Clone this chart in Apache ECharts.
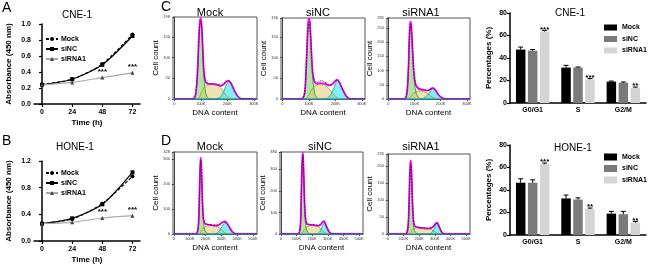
<!DOCTYPE html>
<html>
<head>
<meta charset="utf-8">
<script src="https://cdn.jsdelivr.net/npm/echarts@6/dist/echarts.min.js"></script>
<style>
  html, body { margin: 0; padding: 0; background: #fff; }
  #main { width: 650px; height: 268px; }
</style>
</head>
<body>
<div id="main"></div>
<script>
// growth curves (A, B)
var timeH = [0, 24, 48, 72];
var cneMock = [0.245, 0.31, 0.50, 0.87];
var cneNC = [0.24, 0.31, 0.49, 0.85];
var cneSi = [0.24, 0.27, 0.33, 0.39];
var cneStars = ['', '', '***', '***'];
var honeMock = [0.26, 0.33, 0.56, 0.97];
var honeNC = [0.26, 0.34, 0.55, 1.03];
var honeSi = [0.26, 0.28, 0.345, 0.38];
var honeStars = ['', '', '***', '***'];

// cell cycle histograms, x in K (C = CNE-1, D = HONE-1)
var cMockX = [0, 60, 75, 82, 88, 92, 96, 100, 104, 108, 112, 118, 125, 135, 145, 155, 165, 175, 185, 195, 205, 215, 225, 240, 255, 312];
var cMockData = [0, 0, 3, 20, 70, 130, 178, 188, 165, 112, 66, 44, 39, 37, 37, 36, 35, 32, 34, 41, 45, 38, 24, 7, 1, 0];
var cMockFit = [0, 0, 2, 18, 74, 140, 186, 195, 170, 112, 63, 41, 37, 36, 36, 35, 34, 32, 35, 42, 44, 36, 22, 6, 0, 0];
var cMockG1 = [0, 0, 2, 16, 68, 132, 180, 190, 162, 100, 48, 16, 4, 0, 0, 0, 0, 0, 0, 0, 0, 0, 0, 0, 0, 0];
var cMockS = [0, 0, 0, 0, 0, 2, 6, 12, 18, 24, 28, 32, 34, 36, 36, 35, 32, 26, 18, 9, 3, 0, 0, 0, 0, 0];
var cMockG2 = [0, 0, 0, 0, 0, 0, 0, 0, 0, 0, 0, 0, 0, 0, 0, 0, 2, 6, 16, 32, 42, 36, 22, 6, 0, 0];

var cNCX = [0, 65, 78, 85, 90, 94, 98, 102, 106, 110, 115, 122, 130, 140, 150, 160, 170, 180, 190, 200, 207, 215, 225, 240, 255, 312];
var cNCData = [0, 0, 3, 20, 72, 135, 178, 186, 160, 110, 64, 44, 40, 43, 44, 41, 37, 34, 37, 43, 46, 40, 27, 9, 1, 0];
var cNCFit = [0, 0, 2, 18, 76, 142, 188, 195, 166, 110, 60, 40, 37, 38, 38, 37, 34, 33, 37, 44, 47, 41, 27, 8, 0, 0];
var cNCG1 = [0, 0, 2, 16, 70, 135, 182, 190, 158, 100, 46, 14, 3, 0, 0, 0, 0, 0, 0, 0, 0, 0, 0, 0, 0, 0];
var cNCS = [0, 0, 0, 0, 0, 2, 6, 11, 17, 22, 27, 31, 34, 36, 36, 34, 29, 22, 14, 7, 3, 1, 0, 0, 0, 0];
var cNCG2 = [0, 0, 0, 0, 0, 0, 0, 0, 0, 0, 0, 0, 0, 0, 0, 0, 2, 8, 20, 36, 44, 40, 27, 8, 0, 0];

var cSiX = [0, 55, 65, 72, 77, 80, 83, 86, 89, 93, 98, 105, 115, 125, 135, 145, 155, 162, 170, 178, 185, 195, 210, 225, 312];
var cSiData = [0, 0, 3, 30, 110, 200, 255, 262, 235, 170, 95, 52, 40, 36, 34, 31, 30, 34, 37, 33, 25, 12, 3, 0, 0];
var cSiFit = [0, 0, 2, 28, 115, 210, 265, 272, 240, 168, 90, 48, 36, 33, 31, 30, 31, 36, 39, 34, 24, 11, 2, 0, 0];
var cSiG1 = [0, 0, 2, 26, 108, 200, 258, 265, 232, 158, 75, 25, 5, 0, 0, 0, 0, 0, 0, 0, 0, 0, 0, 0, 0];
var cSiS = [0, 0, 0, 0, 0, 2, 5, 9, 13, 17, 22, 26, 28, 28, 26, 22, 16, 11, 6, 3, 1, 0, 0, 0, 0];
var cSiG2 = [0, 0, 0, 0, 0, 0, 0, 0, 0, 0, 0, 0, 0, 0, 3, 9, 20, 30, 36, 32, 23, 11, 2, 0, 0];

var dMockX = [0, 130, 145, 155, 160, 164, 168, 171, 175, 180, 186, 195, 210, 230, 250, 270, 285, 298, 310, 323, 335, 350, 365, 380, 400, 525];
var dMockData = [0, 0, 3, 35, 110, 210, 280, 295, 250, 150, 72, 45, 40, 37, 35, 34, 36, 42, 47, 48, 42, 28, 13, 4, 0, 0];
var dMockFit = [0, 0, 2, 32, 115, 220, 290, 305, 255, 150, 68, 42, 38, 36, 34, 34, 37, 43, 48, 50, 43, 28, 12, 3, 0, 0];
var dMockG1 = [0, 0, 2, 30, 108, 212, 282, 298, 248, 140, 55, 16, 3, 0, 0, 0, 0, 0, 0, 0, 0, 0, 0, 0, 0, 0];
var dMockS = [0, 0, 0, 0, 0, 2, 5, 9, 14, 19, 24, 28, 33, 35, 34, 31, 26, 19, 12, 5, 2, 0, 0, 0, 0, 0];
var dMockG2 = [0, 0, 0, 0, 0, 0, 0, 0, 0, 0, 0, 0, 0, 0, 0, 3, 11, 24, 36, 45, 41, 28, 12, 3, 0, 0];

var dNCX = [0, 100, 115, 125, 130, 134, 138, 141, 145, 150, 156, 165, 180, 200, 220, 240, 252, 262, 270, 276, 283, 292, 305, 320, 340, 525];
var dNCData = [0, 0, 3, 40, 145, 270, 345, 365, 315, 195, 90, 50, 45, 44, 42, 40, 43, 50, 56, 58, 50, 34, 15, 3, 0, 0];
var dNCFit = [0, 0, 2, 38, 150, 280, 355, 378, 320, 192, 85, 47, 43, 42, 40, 39, 42, 51, 58, 60, 52, 34, 14, 2, 0, 0];
var dNCG1 = [0, 0, 2, 36, 142, 272, 348, 370, 312, 180, 70, 18, 3, 0, 0, 0, 0, 0, 0, 0, 0, 0, 0, 0, 0, 0];
var dNCS = [0, 0, 0, 0, 0, 2, 6, 10, 15, 20, 26, 32, 38, 40, 38, 33, 27, 20, 14, 9, 5, 2, 0, 0, 0, 0];
var dNCG2 = [0, 0, 0, 0, 0, 0, 0, 0, 0, 0, 0, 0, 0, 0, 0, 4, 14, 30, 44, 51, 47, 32, 14, 2, 0, 0];

var dSiX = [0, 105, 120, 130, 136, 140, 144, 147, 151, 156, 162, 170, 185, 205, 225, 250, 275, 290, 300, 308, 314, 322, 332, 345, 365, 525];
var dSiData = [0, 0, 2, 25, 90, 160, 198, 205, 182, 118, 55, 26, 21, 19, 18, 17, 17, 21, 27, 31, 32, 27, 17, 6, 0, 0];
var dSiFit = [0, 0, 2, 24, 95, 170, 208, 216, 188, 118, 52, 24, 20, 18, 17, 16, 17, 22, 28, 32, 33, 28, 17, 5, 0, 0];
var dSiG1 = [0, 0, 1, 22, 88, 162, 200, 208, 180, 108, 42, 10, 2, 0, 0, 0, 0, 0, 0, 0, 0, 0, 0, 0, 0, 0];
var dSiS = [0, 0, 0, 0, 0, 1, 3, 5, 8, 11, 14, 16, 19, 20, 19, 17, 14, 10, 7, 4, 2, 1, 0, 0, 0, 0];
var dSiG2 = [0, 0, 0, 0, 0, 0, 0, 0, 0, 0, 0, 0, 0, 0, 0, 0, 2, 10, 20, 28, 31, 27, 17, 5, 0, 0];

// cell cycle percentages
var phases = ['G0/G1', 'S', 'G2/M'];
var cneBarMock = [47.5, 31.5, 19];
var cneBarMockErr = [2.2, 2, 0.5];
var cneBarNC = [46.5, 31.5, 18];
var cneBarNCErr = [1, 0.5, 0.7];
var cneBarSi = [63.5, 21, 13.5];
var cneBarSiErr = [1, 0.8, 0.7];
var cneBarStars = ['***', '***', '**'];
var honeBarMock = [46.5, 32.5, 19];
var honeBarMockErr = [3.5, 3, 2];
var honeBarNC = [46.5, 31.5, 18.5];
var honeBarNCErr = [2.5, 1.5, 2.5];
var honeBarSi = [63, 23, 11];
var honeBarSiErr = [1, 1, 1];
var honeBarStars = ['***', '**', '**'];

var FONT = 'Liberation Sans, Arial, sans-serif';
var grids = [], xAxes = [], yAxes = [], series = [], legends = [], graphics = [];

function label(text, x, y, size, opts) {
  opts = opts || {};
  graphics.push({
    type: 'text', x: x, y: y, rotation: opts.rotation || 0,
    style: {
      text: text, fill: '#000', textAlign: opts.align || 'center', textVerticalAlign: 'middle',
      font: (opts.weight || 'normal') + ' ' + size + 'px ' + FONT
    }
  });
}

function pairs(xs, ys) {
  return xs.map(function (x, i) { return [x, ys[i]]; });
}

function boldAxisName(size) {
  return { fontWeight: 'bold', fontSize: size, color: '#000', fontFamily: FONT };
}

function growthPanel(top, yMax, yInt, mock, nc, si, stars, legendTop) {
  var gi = grids.length;
  grids.push({ left: 34, top: top, width: 106, height: 80 });
  xAxes.push({
    gridIndex: gi, type: 'value', min: -6.4, max: 78,
    name: 'Time (h)', nameLocation: 'middle', nameGap: 15, nameTextStyle: boldAxisName(8),
    axisLine: { lineStyle: { color: '#000', width: 1.5 } },
    axisTick: { customValues: timeH, length: 3, lineStyle: { color: '#000', width: 1.2 } },
    axisLabel: { customValues: timeH, fontWeight: 'bold', fontSize: 7, margin: 5, color: '#000' },
    splitLine: { show: false }
  });
  yAxes.push({
    gridIndex: gi, type: 'value', min: 0, max: yMax, interval: yInt,
    name: 'Absorbance (450 nm)', nameLocation: 'middle', nameGap: 21, nameTextStyle: boldAxisName(8),
    axisLine: { show: true, lineStyle: { color: '#000', width: 1.5 } },
    axisTick: { show: true, length: 3, lineStyle: { color: '#000', width: 1.2 } },
    axisLabel: { fontWeight: 'bold', fontSize: 7, margin: 3, color: '#000', formatter: function (v) { return v.toFixed(1); } },
    splitLine: { show: false }
  });
  var common = { type: 'line', xAxisIndex: gi, yAxisIndex: gi, smooth: 0.25, symbolSize: 4 };
  series.push(Object.assign({}, common, {
    name: 'Mock', data: pairs(timeH, mock), symbol: 'circle',
    itemStyle: { color: '#000' }, lineStyle: { color: '#000', width: 1.2, type: [3, 2] }
  }));
  series.push(Object.assign({}, common, {
    name: 'siNC', data: pairs(timeH, nc), symbol: 'rect',
    itemStyle: { color: '#000' }, lineStyle: { color: '#000', width: 1.2 }
  }));
  series.push(Object.assign({}, common, {
    name: 'siRNA1', data: pairs(timeH, si), symbol: 'triangle',
    itemStyle: { color: '#444' }, lineStyle: { color: '#aaa', width: 1.2 },
    label: {
      show: true, position: 'top', distance: 0, fontWeight: 'bold', fontSize: 8, color: '#000',
      formatter: function (p) { return stars[p.dataIndex]; }
    }
  }));
  legends.push({
    left: 40, top: legendTop, orient: 'vertical', itemWidth: 12, itemHeight: 5, itemGap: 3,
    textStyle: { fontWeight: 'bold', fontSize: 7, color: '#000', fontFamily: FONT, padding: [0, 0, 0, -2] },
    data: ['Mock', 'siNC', 'siRNA1'], selectedMode: false
  });
}

function histPanel(box, xMax, xTicks, yMax, yInt, xs, data, fit, g1, s, g2) {
  var gi = grids.length;
  grids.push({ left: box[0], top: box[1], width: box[2], height: box[3], show: true, borderColor: '#555', borderWidth: 1 });
  xAxes.push({
    gridIndex: gi, type: 'value', min: -5, max: xMax,
    name: 'DNA content', nameLocation: 'middle', nameGap: 10,
    nameTextStyle: { fontSize: 8, color: '#000', fontFamily: FONT },
    axisLine: { lineStyle: { color: '#444', width: 1 } },
    axisTick: { customValues: xTicks, length: 2, lineStyle: { color: '#444' } },
    axisLabel: {
      customValues: xTicks, fontSize: 4, margin: 3, color: '#333',
      formatter: function (v) { return v === 0 ? '0' : v + 'K'; }
    },
    splitLine: { show: false }
  });
  yAxes.push({
    gridIndex: gi, type: 'value', min: 0, max: yMax, interval: yInt,
    name: 'Cell count', nameLocation: 'middle', nameGap: 11,
    nameTextStyle: { fontSize: 8, color: '#000', fontFamily: FONT },
    axisLine: { show: true, lineStyle: { color: '#444', width: 1 } },
    axisTick: { show: true, length: 2, lineStyle: { color: '#444' } },
    axisLabel: { fontSize: 4, margin: 3, color: '#333' },
    splitLine: { show: false }
  });
  var common = { type: 'line', xAxisIndex: gi, yAxisIndex: gi, smooth: 0.35, showSymbol: false, silent: true };
  series.push(Object.assign({}, common, {
    data: pairs(xs, g1), lineStyle: { color: '#2f8f2f', width: 0.8 },
    areaStyle: { color: 'rgba(95, 205, 80, 0.72)' }
  }));
  series.push(Object.assign({}, common, {
    data: pairs(xs, s), lineStyle: { color: '#a8982e', width: 0.8 },
    areaStyle: { color: 'rgba(215, 200, 95, 0.7)' }
  }));
  series.push(Object.assign({}, common, {
    data: pairs(xs, g2), lineStyle: { color: '#1a96b0', width: 0.8 },
    areaStyle: { color: 'rgba(40, 225, 240, 0.8)' },
    markLine: { silent: true, symbol: 'none', label: { show: false }, lineStyle: { color: '#1c7fa8', width: 1.2, type: 'solid' }, data: [{ yAxis: 0 }] }
  }));
  series.push(Object.assign({}, common, {
    data: pairs(xs, fit), lineStyle: { color: '#ff00ff', width: 1.8 }
  }));
  series.push(Object.assign({}, common, {
    data: pairs(xs, data), lineStyle: { color: '#222', width: 0.8, type: [2, 1] }
  }));
}

function errorRender(values, errs, offset, stars) {
  return function (params, api) {
    var i = params.dataIndex;
    var base = api.coord([i, values[i]]);
    var top = api.coord([i, values[i] + errs[i]]);
    var x = base[0] + offset;
    var children = [
      { type: 'line', shape: { x1: x, y1: base[1], x2: x, y2: top[1] }, style: { stroke: '#000', lineWidth: 1 } },
      { type: 'line', shape: { x1: x - 2.5, y1: top[1], x2: x + 2.5, y2: top[1] }, style: { stroke: '#000', lineWidth: 1 } }
    ];
    if (stars) {
      children.push({
        type: 'text', x: x, y: top[1] - 1,
        style: { text: stars[i], textAlign: 'center', textVerticalAlign: 'middle', fill: '#000', font: 'bold 8px ' + FONT }
      });
    }
    return { type: 'group', children: children };
  };
}

function barPanel(top, mock, mockErr, nc, ncErr, si, siErr, stars, legendTop, legendSize) {
  var gi = grids.length;
  grids.push({ left: 510, top: top, width: 136, height: 90 });
  xAxes.push({
    gridIndex: gi, type: 'category', data: phases,
    axisLine: { lineStyle: { color: '#000', width: 1.5 } },
    axisTick: { show: false },
    axisLabel: { fontWeight: 'bold', fontSize: 7, margin: 4, color: '#000' }
  });
  yAxes.push({
    gridIndex: gi, type: 'value', min: 0, max: 80, interval: 20,
    name: 'Percentages (%)', nameLocation: 'middle', nameGap: 17, nameTextStyle: boldAxisName(8),
    axisLine: { show: true, lineStyle: { color: '#000', width: 1.5 } },
    axisTick: { show: true, length: 3, lineStyle: { color: '#000', width: 1.2 } },
    axisLabel: { fontWeight: 'bold', fontSize: 7, margin: 3, color: '#000' },
    splitLine: { show: false }
  });
  var sets = [
    ['Mock', mock, mockErr, '#000', -12, null],
    ['siNC', nc, ncErr, '#7a7a7a', 0, null],
    ['siRNA1', si, siErr, '#d4d4d4', 12, stars]
  ];
  sets.forEach(function (st) {
    series.push({
      type: 'bar', name: st[0], xAxisIndex: gi, yAxisIndex: gi, data: st[1],
      barWidth: 9.5, barGap: '26%', itemStyle: { color: st[3] }, silent: true
    });
  });
  sets.forEach(function (st) {
    series.push({
      type: 'custom', xAxisIndex: gi, yAxisIndex: gi, silent: true, z: 5,
      data: st[1].map(function (v, i) { return [i, v]; }),
      renderItem: errorRender(st[1], st[2], st[4], st[5])
    });
  });
  legends.push({
    left: 599, top: legendTop, orient: 'vertical', itemWidth: 13, itemHeight: legendSize[0], itemGap: legendSize[1],
    textStyle: { fontWeight: 'bold', fontSize: 7, color: '#000', fontFamily: FONT },
    selectedMode: false,
    data: [
      { name: 'Mock', icon: 'rect', itemStyle: { color: '#000' } },
      { name: 'siNC', icon: 'rect', itemStyle: { color: '#7a7a7a' } },
      { name: 'siRNA1', icon: 'rect', itemStyle: { color: '#d4d4d4' } }
    ]
  });
}

growthPanel(24, 1.0, 0.2, cneMock, cneNC, cneSi, cneStars, 30.5);
growthPanel(161, 1.2, 0.4, honeMock, honeNC, honeSi, honeStars, 164.5);

var cTicks = [0, 100, 200, 300];
var dTicks = [0, 100, 200, 300, 400, 500];
histPanel([173, 17, 84, 82], 312, cTicks, 198, 50, cMockX, cMockData, cMockFit, cMockG1, cMockS, cMockG2);
histPanel([281, 18, 84, 81], 312, cTicks, 196, 50, cNCX, cNCData, cNCFit, cNCG1, cNCS, cNCG2);
histPanel([387, 18, 83, 81], 312, cTicks, 285, 50, cSiX, cSiData, cSiFit, cSiG1, cSiS, cSiG2);
histPanel([173, 152, 84, 82], 525, dTicks, 328, 100, dMockX, dMockData, dMockFit, dMockG1, dMockS, dMockG2);
histPanel([280, 152, 83, 82], 525, dTicks, 380, 100, dNCX, dNCData, dNCFit, dNCG1, dNCS, dNCG2);
histPanel([387, 154, 83, 80], 525, dTicks, 235, 50, dSiX, dSiData, dSiFit, dSiG1, dSiS, dSiG2);

barPanel(13, cneBarMock, cneBarMockErr, cneBarNC, cneBarNCErr, cneBarSi, cneBarSiErr, cneBarStars, 19, [6, 4.5]);
barPanel(145, honeBarMock, honeBarMockErr, honeBarNC, honeBarNCErr, honeBarSi, honeBarSiErr, honeBarStars, 148.5, [7, 4.5]);

// panel letters and titles
label('A', 2, 8, 14, { align: 'left' });
label('B', 2, 141, 14, { align: 'left' });
label('C', 161, 7, 14, { align: 'left' });
label('D', 161, 141, 14, { align: 'left' });
label('CNE-1', 77, 15, 10);
label('HONE-1', 75, 147, 10);
label('Mock', 210, 13, 11);
label('siNC', 318, 13, 11);
label('siRNA1', 421, 13, 11);
label('Mock', 210, 147, 11);
label('siNC', 320, 147, 11);
label('siRNA1', 421, 147, 11);
label('CNE-1', 570, 13, 10);
label('HONE-1', 573, 148, 10);

var chart = echarts.init(document.getElementById('main'), null, { renderer: 'canvas' });
chart.setOption({
  animation: false,
  textStyle: { fontFamily: FONT },
  grid: grids,
  xAxis: xAxes,
  yAxis: yAxes,
  legend: legends,
  series: series,
  graphic: graphics
});
</script>
</body>
</html>
